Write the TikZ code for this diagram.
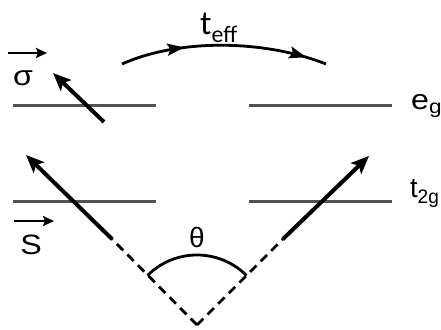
\documentclass[tikz,border=0pt]{standalone}
\usepackage{fontspec}
\setmainfont{Liberation Sans}
\newfontfamily\calfont{Carlito}
\usetikzlibrary{arrows.meta,decorations.markings}
\begin{document}
\begin{tikzpicture}[x=1pt,y=1pt,
  level/.style={line width=3pt, draw=black!68},
  spin/.style={line width=4pt, -{Stealth[length=18pt,width=15pt,inset=4pt]}},
  dashline/.style={line width=2.8pt, dash pattern=on 9pt off 6pt},
  vec/.style={line width=2.6pt, -{Stealth[length=11pt,width=10pt,inset=2pt]}},
  lbl/.style={font=\fontsize{28}{30}\selectfont, inner sep=0pt}]
\useasboundingbox (0,0) rectangle (441,329);
\fill[white] (0,0) rectangle (441,329);
% level lines
\coordinate (egL1) at (13,223); \coordinate (egL2) at (156,223);
\coordinate (egR1) at (249,223); \coordinate (egR2) at (392,223);
\coordinate (tgL1) at (13,127); \coordinate (tgL2) at (156,127);
\coordinate (tgR1) at (249,127); \coordinate (tgR2) at (392,127);
\draw[level] (egL1) -- (egL2);
\draw[level] (egR1) -- (egR2);
\draw[level] (tgL1) -- (tgL2);
\draw[level] (tgR1) -- (tgR2);
% labels
\node[lbl, xscale=1.15, anchor=base west] (eg) at (411,219) {e\textsubscript{g}};
\node[lbl, xscale=0.97, anchor=base west] (t2g) at (410,131) {t\textsubscript{2g}};
% spins
\coordinate (V) at (197,4);
\coordinate (L1) at (112,90); \coordinate (L2) at (26,174);
\coordinate (R1) at (283,90); \coordinate (R2) at (369,173);
\draw[dashline] (V) -- (L1);
\draw[dashline] (V) -- (R1);
\draw[spin] (L1) -- (L2);
\draw[spin] (R1) -- (R2);
% sigma spin
\coordinate (s1) at (104,207); \coordinate (s2) at (53,256);
\draw[spin] (s1) -- (s2);
% angle
\coordinate (A1) at ([shift={(45:70)}]V);
\draw[line width=2.8pt] (A1) arc[start angle=45,end angle=135,radius=70];
\node[lbl] (theta) at (197,92) {θ};
% vector labels
\coordinate (sv1) at (8,276); \coordinate (sv2) at (47,276);
\draw[vec] (sv1) -- (sv2);
\node[lbl, xscale=1.15] (sigma) at (23,251) {σ};
\coordinate (Sv1) at (14,108); \coordinate (Sv2) at (54,108);
\draw[vec] (Sv1) -- (Sv2);
\node[lbl, xscale=1.15] (S) at (31,84) {S};
% hopping
\coordinate (h1) at (122,265); \coordinate (h2) at (326,265);
\draw[line width=2.8pt, postaction={decorate},
  decoration={markings,
    mark=at position 0.31 with {\arrow{Stealth[length=17pt,width=12pt,inset=3pt]}},
    mark=at position 0.9 with {\arrow{Stealth[length=17pt,width=12pt,inset=3pt]}}}]
  (h1) .. controls (178,290) and (262,290) .. (h2);
\node[inner sep=0pt, anchor=base west, font=\calfont\fontsize{34}{36}\selectfont] (teff) at (200,294) {t\textsubscript{eff}};
\end{tikzpicture}
\end{document}
